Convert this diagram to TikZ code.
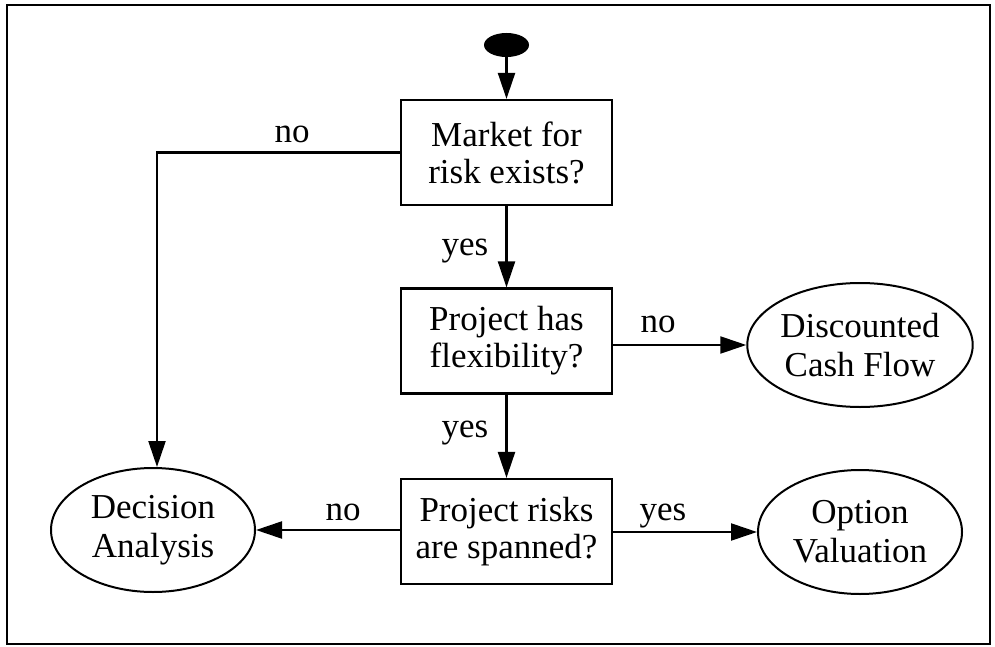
\documentclass[tikz,border=0pt]{standalone}
\usepackage{fontspec}
\setmainfont{Liberation Serif}
\usetikzlibrary{shapes.geometric,arrows.meta}
\tikzset{
  decision/.style={draw, line width=1.1pt, rectangle, minimum width=105.5pt, minimum height=52.5pt, inner sep=0pt, align=center, font=\fontsize{17.5}{18.5}\selectfont},
  outcome/.style={draw, line width=1pt, ellipse, minimum width=102pt, minimum height=62pt, inner sep=0pt, align=center, font=\fontsize{17.5}{19.5}\selectfont},
  startdot/.style={ellipse, fill=black, minimum width=22.5pt, minimum height=12pt, inner sep=0pt},
  flow/.style={line width=1.1pt, -{Triangle[length=13pt,width=8.5pt]}},
  lbl/.style={anchor=base, inner sep=0pt, font=\fontsize{17.5}{18.5}\selectfont}
}
\begin{document}
\begin{tikzpicture}[x=0.5pt, y=-0.5pt]
\useasboundingbox (0,0) rectangle (995,647);
\draw[line width=1.3pt] (7,5) rectangle (990,644);
\node[startdot] (s) at (506.5,45) {};
\node[decision] (m) at (506.5,152.5) {Market for\\risk exists?};
\node[decision] (f) at (506.5,341) {Project has\\flexibility?};
\node[decision] (r) at (506.5,531.5) {Project risks\\are spanned?};
\node[outcome] (dcf) at (860,345) {Discounted\\Cash Flow};
\node[outcome] (da) at (153,530) {Decision\\Analysis};
\node[outcome] (ov) at (860,532) {Option\\Valuation};
\coordinate (dain) at (157,467);
\draw[flow] (s) -- (m);
\draw[flow] (m) -- (f);
\draw[flow] (f) -- (r);
\draw[flow] (m.west) -| (dain);
\draw[flow] (f.east |- dcf.west) -- (dcf.west);
\draw[flow] (r.west |- da.east) -- (da.east);
\draw[flow] (r.east |- ov.west) -- (ov.west);
\node[lbl] (l1) at (292,142) {no};
\node[lbl] (l2) at (465,255) {yes};
\node[lbl] (l3) at (658,332) {no};
\node[lbl] (l4) at (465,437) {yes};
\node[lbl] (l5) at (343,520) {no};
\node[lbl] (l6) at (663,520) {yes};
\end{tikzpicture}
\end{document}
